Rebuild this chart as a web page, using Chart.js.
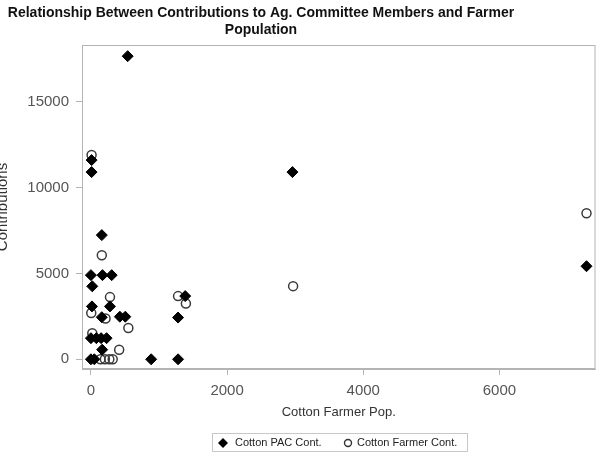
<!DOCTYPE html>
<html>
<head>
<meta charset="utf-8">
<script src="https://cdn.jsdelivr.net/npm/chart.js@4.4.1/dist/chart.umd.min.js"></script>
<style>
  html, body { margin: 0; padding: 0; background: #fff; }
  #chart-canvas { display: block; }
</style>
</head>
<body>
<canvas id="chart-canvas" width="602" height="453"></canvas>
<script>
// values
const pacPop = [10, 10, 540, 160, 0, 170, 305, 20, 1385, 15, 280, 160, 425, 505, 1280, 0, 80, 150, 230, 165, 0, 50, 885, 1280, 2960, 7280];
const pacCont = [11600, 10900, 17650, 7230, 4900, 4900, 4900, 4250, 3680, 3080, 3080, 2450, 2480, 2480, 2430, 1230, 1230, 1230, 1230, 560, 0, 0, 0, 0, 10900, 5420];
const farmerPop = [10, 160, 280, 1280, 1395, 5, 215, 550, 20, 415, 140, 205, 270, 320, 2970, 7280];
const farmerCont = [11900, 6060, 3620, 3680, 3250, 2700, 2380, 1820, 1520, 560, 0, 0, 0, 0, 4260, 8500];
const xTicks = [0, 2000, 4000, 6000];
const yTicks = [0, 5000, 10000, 15000];
const seriesNames = ['Cotton PAC Cont.', 'Cotton Farmer Cont.'];

const FONT = "'Liberation Sans', Arial, sans-serif";

function toPoints(xs, ys) {
    return xs.map((x, i) => ({ x: x, y: ys[i] }));
}

// title, axis titles, frame and boxed legend
const decor = {
    id: 'decor',
    beforeDatasetsDraw(chart) {
        const a = chart.chartArea;
        const c = chart.ctx;
        c.save();
        c.strokeStyle = '#b4b4b4';
        c.lineWidth = 1;
        c.strokeRect(a.left + 0.5, a.top + 0.5, a.right - a.left - 1, a.bottom - a.top - 1);
        c.restore();
    },
    afterDraw(chart) {
        const a = chart.chartArea;
        const c = chart.ctx;
        const mid = (a.left + a.right) / 2;
        c.save();
        c.fillStyle = '#111';
        c.textAlign = 'center';
        c.textBaseline = 'middle';
        c.font = 'bold 14px ' + FONT;
        c.fillText('Relationship Between Contributions to Ag. Committee Members and Farmer', 261, 13);
        c.fillText('Population', 261, 30);

        c.fillStyle = '#333';
        c.font = '13px ' + FONT;
        c.fillText('Cotton Farmer Pop.', mid, 412);

        c.save();
        c.translate(3, (a.top + a.bottom) / 2);
        c.rotate(-Math.PI / 2);
        c.font = '15px ' + FONT;
        c.fillText('Contributions', 0, 0);
        c.restore();

        // legend
        c.strokeStyle = '#c8c8c8';
        c.lineWidth = 1;
        c.strokeRect(212.5, 433.5, 255, 18);
        c.font = '11px ' + FONT;
        c.textAlign = 'left';
        const ly = 443;
        c.fillStyle = '#000';
        c.beginPath();
        c.moveTo(218, ly); c.lineTo(223, ly - 5); c.lineTo(228, ly); c.lineTo(223, ly + 5);
        c.closePath(); c.fill();
        c.fillStyle = '#222';
        c.fillText(seriesNames[0], 235, ly);
        c.strokeStyle = '#333';
        c.lineWidth = 1.4;
        c.beginPath();
        c.arc(348, ly, 3.5, 0, Math.PI * 2);
        c.stroke();
        c.fillText(seriesNames[1], 357, ly);
        c.restore();
    }
};

new Chart(document.getElementById('chart-canvas').getContext('2d'), {
    type: 'scatter',
    data: {
        datasets: [{
            label: seriesNames[0],
            data: toPoints(pacPop, pacCont),
            pointStyle: 'rectRot',
            pointRadius: 5.5,
            backgroundColor: '#000',
            borderColor: '#000',
            borderWidth: 1
        }, {
            label: seriesNames[1],
            data: toPoints(farmerPop, farmerCont),
            pointStyle: 'circle',
            pointRadius: 4.5,
            backgroundColor: 'rgba(0,0,0,0)',
            borderColor: '#3a3a3a',
            borderWidth: 1.5
        }]
    },
    options: {
        responsive: false,
        devicePixelRatio: 1,
        animation: false,
        layout: { padding: { top: 45, right: 3, bottom: 0, left: 0 } },
        plugins: {
            legend: { display: false },
            title: { display: false },
            tooltip: { enabled: false }
        },
        scales: {
            x: {
                type: 'linear',
                min: -131,
                max: 7412,
                afterBuildTicks: s => { s.ticks = xTicks.map(v => ({ value: v })); },
                afterFit: s => { s.height = 84; },
                grid: { drawOnChartArea: false, tickLength: 6, color: '#b4b4b4' },
                border: { color: '#b4b4b4' },
                ticks: { color: '#555', padding: 7, font: { family: FONT, size: 15 }, callback: v => String(v) }
            },
            y: {
                type: 'linear',
                min: -565,
                max: 18300,
                afterBuildTicks: s => { s.ticks = yTicks.map(v => ({ value: v })); },
                afterFit: s => { s.width = 82; },
                grid: { drawOnChartArea: false, tickLength: 6, color: '#b4b4b4' },
                border: { color: '#b4b4b4' },
                ticks: { color: '#555', padding: 7, font: { family: FONT, size: 15 }, callback: v => String(v) }
            }
        }
    },
    plugins: [decor]
});
</script>
</body>
</html>
